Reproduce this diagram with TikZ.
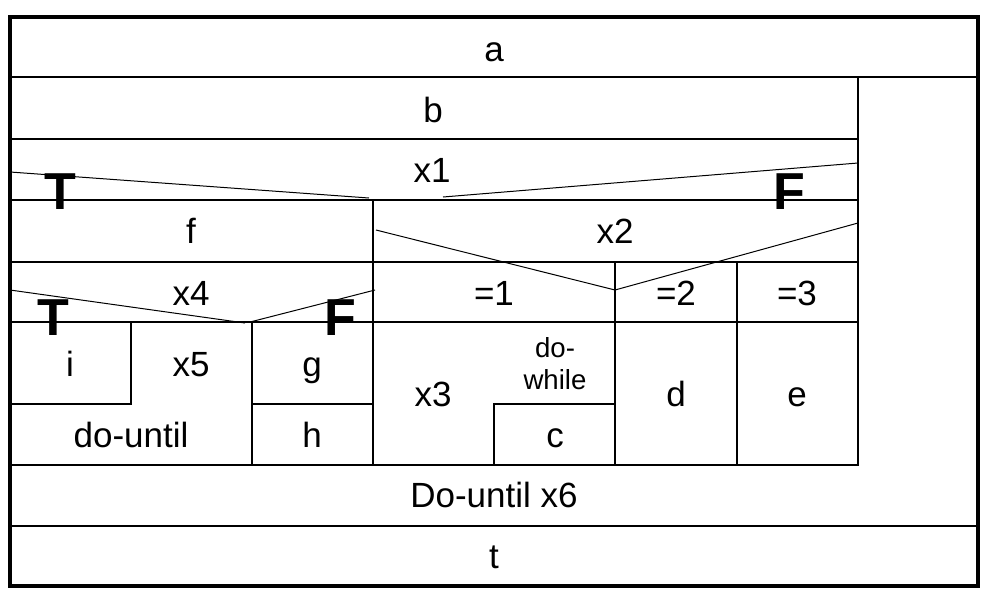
\documentclass[tikz,border=0pt]{standalone}
\usepackage{fontspec}
\setmainfont{Liberation Sans}
\begin{document}
\begin{tikzpicture}[
        x=0.5pt,y=-0.5pt,
        frame/.style={line width=2pt},
        cell/.style={line width=1pt},
        diag/.style={line width=0.5pt},
        lbl/.style={anchor=base,inner sep=0pt,font=\fontsize{17.5}{20}\selectfont},
        small/.style={inner sep=0pt,align=center,font=\fontsize{13.8}{16}\selectfont},
        tf/.style={inner sep=0pt,font=\fontsize{26}{28}\selectfont\bfseries}
      ]
        \useasboundingbox (0,0) rectangle (997,601);
        % frame and loop body
        \draw[frame] (10,17) rectangle (978,586);
        \draw[cell] (10,77) -- (978,77);
        \draw[cell] (10,526) -- (978,526);
        \draw[cell] (858,77) -- (858,465) -- (10,465);
        \foreach \y in {139,200,262,322}
          \draw[cell] (10,\y) -- (858,\y);
        \draw[cell] (373,200) -- (373,465);
        \draw[cell] (615,262) -- (615,465);
        \draw[cell] (737,262) -- (737,465);
        \draw[cell] (252,322) -- (252,465);
        \draw[cell] (131,322) -- (131,404) -- (10,404);
        \draw[cell] (252,404) -- (373,404);
        \draw[cell] (494,465) -- (494,404) -- (615,404);
        % decision diagonals
        \draw[diag] (10,172) -- (369,198);
        \draw[diag] (443,197) -- (858,163);
        \draw[diag] (376,230) -- (615,290) -- (858,223);
        \draw[diag] (10,290) -- (245,323);
        \draw[diag] (250,322) -- (375,290);
        % labels
        \node[lbl] (a) at (494,61) {a};
        \node[lbl] (b) at (433,122) {b};
        \node[lbl] (x1) at (432,182) {x1};
        \node[tf] (t1) at (60,192) {T};
        \node[tf] (f1) at (789,192) {F};
        \node[lbl] (f) at (191,243) {f};
        \node[lbl] (x2) at (615,243) {x2};
        \node[lbl] (x4) at (191,305) {x4};
        \node[lbl] (eq1) at (494,305) {=1};
        \node[lbl] (eq2) at (676,305) {=2};
        \node[lbl] (eq3) at (797,305) {=3};
        \node[tf] (t2) at (53,318) {T};
        \node[tf] (f2) at (340,318) {F};
        \node[lbl] (i) at (70,376) {i};
        \node[lbl] (x5) at (191,376) {x5};
        \node[lbl] (g) at (312,376) {g};
        \node[small] (dowhile) at (555,364) {do-\\while};
        \node[lbl] (x3) at (433,406) {x3};
        \node[lbl] (d) at (676,406) {d};
        \node[lbl] (e) at (797,406) {e};
        \node[lbl] (dountil) at (131,447) {do-until};
        \node[lbl] (h) at (312,447) {h};
        \node[lbl] (c) at (555,447) {c};
        \node[lbl] (x6) at (494,507) {Do-until x6};
        \node[lbl] (t) at (494,568) {t};
      \end{tikzpicture}
\end{document}
